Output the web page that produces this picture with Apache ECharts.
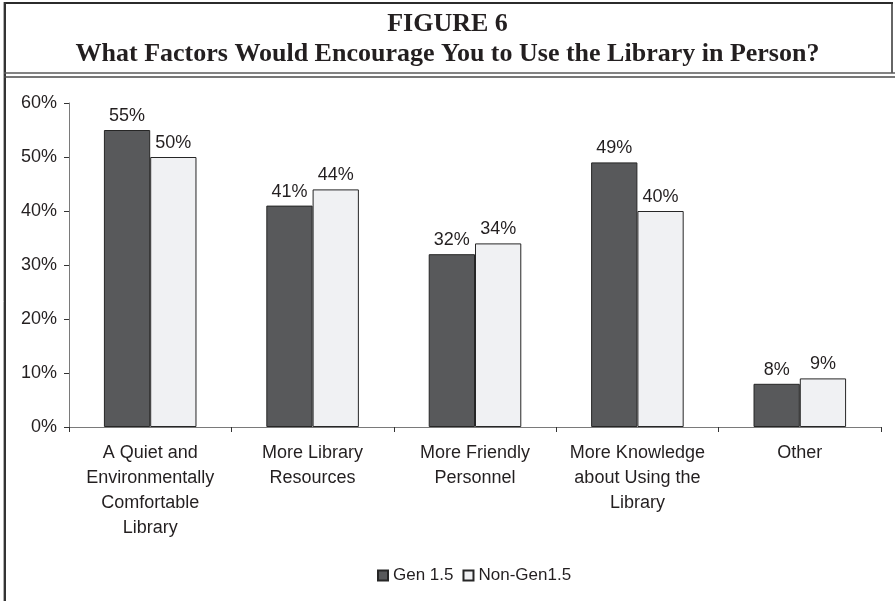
<!DOCTYPE html>
<html>
<head>
<meta charset="utf-8">
<script src="https://cdn.jsdelivr.net/npm/echarts@6/dist/echarts.min.js"></script>
<style>
  html, body { margin: 0; padding: 0; background: #ffffff; }
  #chart { width: 895px; height: 601px; }
</style>
</head>
<body>
<div id="chart"></div>
<script>
// Survey results: factors that would encourage in-person library use
var categories = [
  "A Quiet and\nEnvironmentally\nComfortable\nLibrary",
  "More Library\nResources",
  "More Friendly\nPersonnel",
  "More Knowledge\nabout Using the\nLibrary",
  "Other"
];
var gen15 = [55, 41, 32, 49, 8];
var nonGen15 = [50, 44, 34, 40, 9];
var seriesNames = ["Gen 1.5", "Non-Gen1.5"];
var yTicks = { min: 0, max: 60, step: 10 };
var titleLines = ["FIGURE 6", "What Factors Would Encourage You to Use the Library in Person?"];

var sansFont = '"Liberation Sans", Arial, sans-serif';
var serifFont = '"Liberation Serif", "Times New Roman", serif';
var ink = '#231f20';

var chart = echarts.init(document.getElementById('chart'), null, { renderer: 'canvas' });

function barLabel() {
  return {
    show: true,
    position: 'top',
    distance: 5,
    formatter: '{c}%',
    color: ink,
    fontFamily: sansFont,
    fontSize: 18
  };
}

chart.setOption({
  backgroundColor: '#ffffff',
  animation: false,
  graphic: [
    // frame: top rule, left rule, right rule of the heading box
    { type: 'line', silent: true, shape: { x1: 4, y1: 3, x2: 893, y2: 3 }, style: { stroke: '#2b2b2b', lineWidth: 2 } },
    { type: 'line', silent: true, shape: { x1: 5, y1: 2, x2: 5, y2: 601 }, style: { stroke: '#333333', lineWidth: 2 } },
    { type: 'line', silent: true, shape: { x1: 3.5, y1: 2, x2: 3.5, y2: 601 }, style: { stroke: '#b0b0b0', lineWidth: 1 } },
    { type: 'line', silent: true, shape: { x1: 892, y1: 2, x2: 892, y2: 73 }, style: { stroke: '#333333', lineWidth: 1.5 } },
    // double rule under the heading
    { type: 'line', silent: true, shape: { x1: 4, y1: 73, x2: 895, y2: 73 }, style: { stroke: '#5a5a5a', lineWidth: 1.5 } },
    { type: 'line', silent: true, shape: { x1: 4, y1: 77, x2: 895, y2: 77 }, style: { stroke: '#4a4a4a', lineWidth: 1.5 } },
    // heading text
    { type: 'text', silent: true, x: 447.5, y: 24,
      style: { text: titleLines[0], align: 'center', verticalAlign: 'middle', fill: ink,
               font: 'bold 26px ' + serifFont } },
    { type: 'text', silent: true, x: 447.5, y: 54,
      style: { text: titleLines[1], align: 'center', verticalAlign: 'middle', fill: ink,
               font: 'bold 26px ' + serifFont } }
  ],
  legend: {
    data: seriesNames,
    left: 377,
    top: 567,
    padding: 0,
    itemWidth: 10,
    itemHeight: 10,
    itemGap: 9,
    icon: 'rect',
    textStyle: { color: ink, fontFamily: sansFont, fontSize: 17 }
  },
  grid: { left: 69, right: 14, top: 103, bottom: 174, containLabel: false },
  xAxis: {
    type: 'category',
    data: categories,
    axisLine: { show: true, lineStyle: { color: '#7a7a7a', width: 1 } },
    axisTick: { show: true, alignWithLabel: false, length: 5, lineStyle: { color: '#333333' } },
    axisLabel: {
      interval: 0,
      margin: 14,
      color: ink,
      fontFamily: sansFont,
      fontSize: 18,
      lineHeight: 25,
      align: 'center'
    },
    splitLine: { show: false }
  },
  yAxis: {
    type: 'value',
    min: yTicks.min,
    max: yTicks.max,
    interval: yTicks.step,
    axisLine: { show: true, lineStyle: { color: '#7a7a7a', width: 1 } },
    axisTick: { show: true, length: 5, lineStyle: { color: '#333333' } },
    axisLabel: {
      formatter: '{value}%',
      margin: 12,
      color: ink,
      fontFamily: sansFont,
      fontSize: 18
    },
    splitLine: { show: false }
  },
  series: [
    {
      name: seriesNames[0],
      type: 'bar',
      data: gen15,
      barGap: '0%',
      barCategoryGap: '43%',
      itemStyle: { color: '#58595b', borderColor: '#262626', borderWidth: 1 },
      label: barLabel()
    },
    {
      name: seriesNames[1],
      type: 'bar',
      data: nonGen15,
      barGap: '0%',
      barCategoryGap: '43%',
      itemStyle: { color: '#f0f1f3', borderColor: '#262626', borderWidth: 1 },
      label: barLabel()
    }
  ]
});
</script>
</body>
</html>
